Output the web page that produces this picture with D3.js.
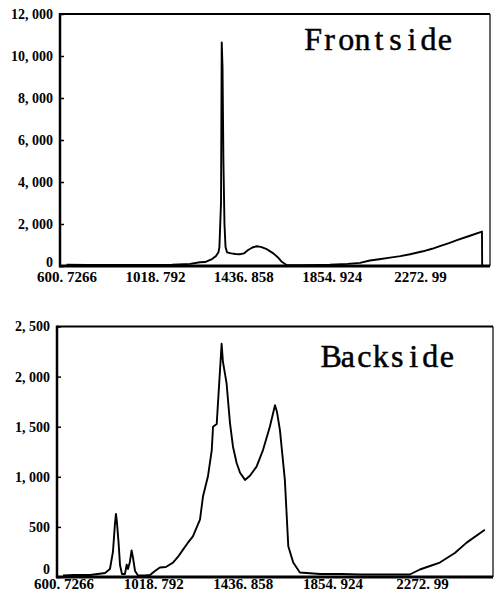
<!DOCTYPE html>
<html>
<head>
<meta charset="utf-8">
<script src="https://cdn.jsdelivr.net/npm/d3@7/dist/d3.min.js"></script>
<style>
html,body{margin:0;padding:0;background:#fff;}
svg{display:block;}
</style>
</head>
<body>
<svg id="chart" width="496" height="599"></svg>
<script>
// ---------- DATA ----------
const xTickValues = [600.7266, 1018.792, 1436.858, 1854.924, 2272.99];
const xTickLabels = ["600. 7266", "1018. 792", "1436. 858", "1854. 924", "2272. 99"];

const frontTicks = [0, 2000, 4000, 6000, 8000, 10000, 12000];
const backTicks = [0, 500, 1000, 1500, 2000, 2500];

// Frontside spectrum (x = channel value, y = counts)
const frontX = [600.7, 700, 800, 900, 1000, 1100, 1185, 1232, 1256, 1289, 1308, 1320, 1324, 1331.6, 1335, 1338.7, 1343, 1348, 1353, 1360, 1380, 1400, 1421, 1440, 1460, 1480, 1500, 1520, 1545, 1579, 1600, 1619, 1642, 1700, 1800, 1847, 1930, 1989, 2036, 2080, 2131, 2180, 2226, 2287, 2330, 2367, 2410, 2448, 2509, 2566, 2567];
const frontY = [60, 50, 55, 50, 55, 60, 100, 180, 190, 330, 480, 670, 900, 3000, 10650, 9500, 5000, 2000, 900, 650, 600, 570, 560, 600, 760, 880, 940, 910, 820, 600, 420, 200, 50, 40, 50, 60, 100, 150, 260, 320, 400, 470, 560, 700, 820, 950, 1090, 1230, 1440, 1640, 0];

// Backside spectrum
const backX = [598, 650, 724, 760, 794, 817, 831, 840, 845, 849, 857, 864, 873, 887, 895, 901, 910, 918, 924, 934, 948, 980, 1004, 1027, 1050, 1078, 1111, 1134, 1158, 1180, 1204, 1237, 1251, 1274, 1292, 1298, 1315, 1338, 1344, 1361, 1377, 1391, 1408, 1424, 1447, 1470, 1501, 1531, 1563, 1587, 1596, 1610, 1633, 1649, 1672, 1703, 1797, 1900, 1983, 2100, 2216, 2263, 2310, 2356, 2426, 2481, 2566];
const backY = [15, 20, 20, 30, 40, 80, 250, 520, 630, 560, 350, 120, 30, 30, 124, 80, 150, 266, 200, 60, 15, 15, 20, 60, 95, 100, 143, 200, 273, 340, 405, 572, 803, 1002, 1267, 1499, 1526, 2328, 2150, 1934, 1536, 1300, 1138, 1040, 969, 1010, 1101, 1267, 1499, 1715, 1650, 1466, 969, 306, 144, 45, 30, 30, 25, 25, 25, 75, 110, 144, 240, 343, 472];

const panels = [
  {title: "Frontside", xs: frontX, ys: frontY, yTicks: frontTicks, yMax: 12000,
   left: 60, right: 490, top: 14, bottom: 266, labelPad: 5, zeroShift: -4,
   titleX: 305, titleY: 49.5, cell: 16.45},
  {title: "Backside", xs: backX, ys: backY, yTicks: backTicks, yMax: 2500,
   left: 57, right: 493, top: 326.5, bottom: 577, labelPad: 1.5, zeroShift: -8,
   titleX: 323, titleY: 367, cell: 16.5}
];

const xDomain = [570, 2604];
const fmtY = d => d3.format(",")(d).replace(",", ", ");

const svg = d3.select("#chart");
const labelFont = "'Liberation Serif', 'Times New Roman', serif";

panels.forEach(p => {
  const x = d3.scaleLinear().domain(xDomain).range([p.left, p.right]);
  const y = d3.scaleLinear().domain([0, p.yMax]).range([p.bottom, p.top]);
  const g = svg.append("g");

  // y axis
  const ya = g.append("g")
    .attr("transform", `translate(${p.left},0)`)
    .call(d3.axisLeft(y).tickValues(p.yTicks).tickFormat(fmtY).tickSize(-4).tickPadding(7));
  ya.select(".domain").remove();
  ya.selectAll(".tick line").attr("stroke", "#000").attr("stroke-width", 1.5);
  ya.selectAll(".tick text").attr("font-family", labelFont).attr("font-weight", "bold")
    .attr("font-size", 14).attr("fill", "#000");
  ya.selectAll(".tick text").filter(d => d === 0).attr("y", p.zeroShift);

  // x axis
  const xa = g.append("g")
    .attr("transform", `translate(0,${p.bottom})`)
    .call(d3.axisBottom(x).tickValues(xTickValues)
      .tickFormat((d, i) => xTickLabels[i]).tickSize(0).tickPadding(p.labelPad));
  xa.select(".domain").remove();
  xa.selectAll(".tick text").attr("font-family", labelFont).attr("font-weight", "bold")
    .attr("font-size", 15).attr("fill", "#000");

  // frame
  g.append("line").attr("x1", p.left).attr("x2", p.right).attr("y1", p.top).attr("y2", p.top)
    .attr("stroke", "#000").attr("stroke-width", 2);
  g.append("line").attr("x1", p.right).attr("x2", p.right).attr("y1", p.top).attr("y2", p.bottom)
    .attr("stroke", "#000").attr("stroke-width", 1.2);
  g.append("line").attr("x1", p.left).attr("x2", p.left).attr("y1", p.top - 1).attr("y2", p.bottom + 1.5)
    .attr("stroke", "#000").attr("stroke-width", 2.5);
  g.append("line").attr("x1", p.left).attr("x2", p.right).attr("y1", p.bottom).attr("y2", p.bottom)
    .attr("stroke", "#000").attr("stroke-width", 3);

  // spectrum line
  const pts = p.xs.map((v, i) => [v, p.ys[i]]);
  g.append("path").datum(pts)
    .attr("fill", "none").attr("stroke", "#000").attr("stroke-width", 1.9)
    .attr("stroke-linejoin", "round")
    .attr("d", d3.line().x(d => x(d[0])).y(d => y(d[1])));

  // title with monospaced cells
  const t = g.append("text")
    .attr("font-family", labelFont).attr("font-size", 32).attr("fill", "#000")
    .attr("stroke", "#000").attr("stroke-width", 0.5)
    .attr("y", p.titleY).text(p.title);
  const chars = p.title.split("");
  const widths = chars.map(c => {
    const tmp = g.append("text").attr("font-family", labelFont).attr("font-size", 32).text(c);
    const w = tmp.node().getComputedTextLength();
    tmp.remove();
    return w;
  });
  const xs = chars.map((c, i) => (p.titleX + i * p.cell + (p.cell - widths[i]) / 2).toFixed(2));
  t.attr("x", xs.join(" "));
});
</script>
</body>
</html>
